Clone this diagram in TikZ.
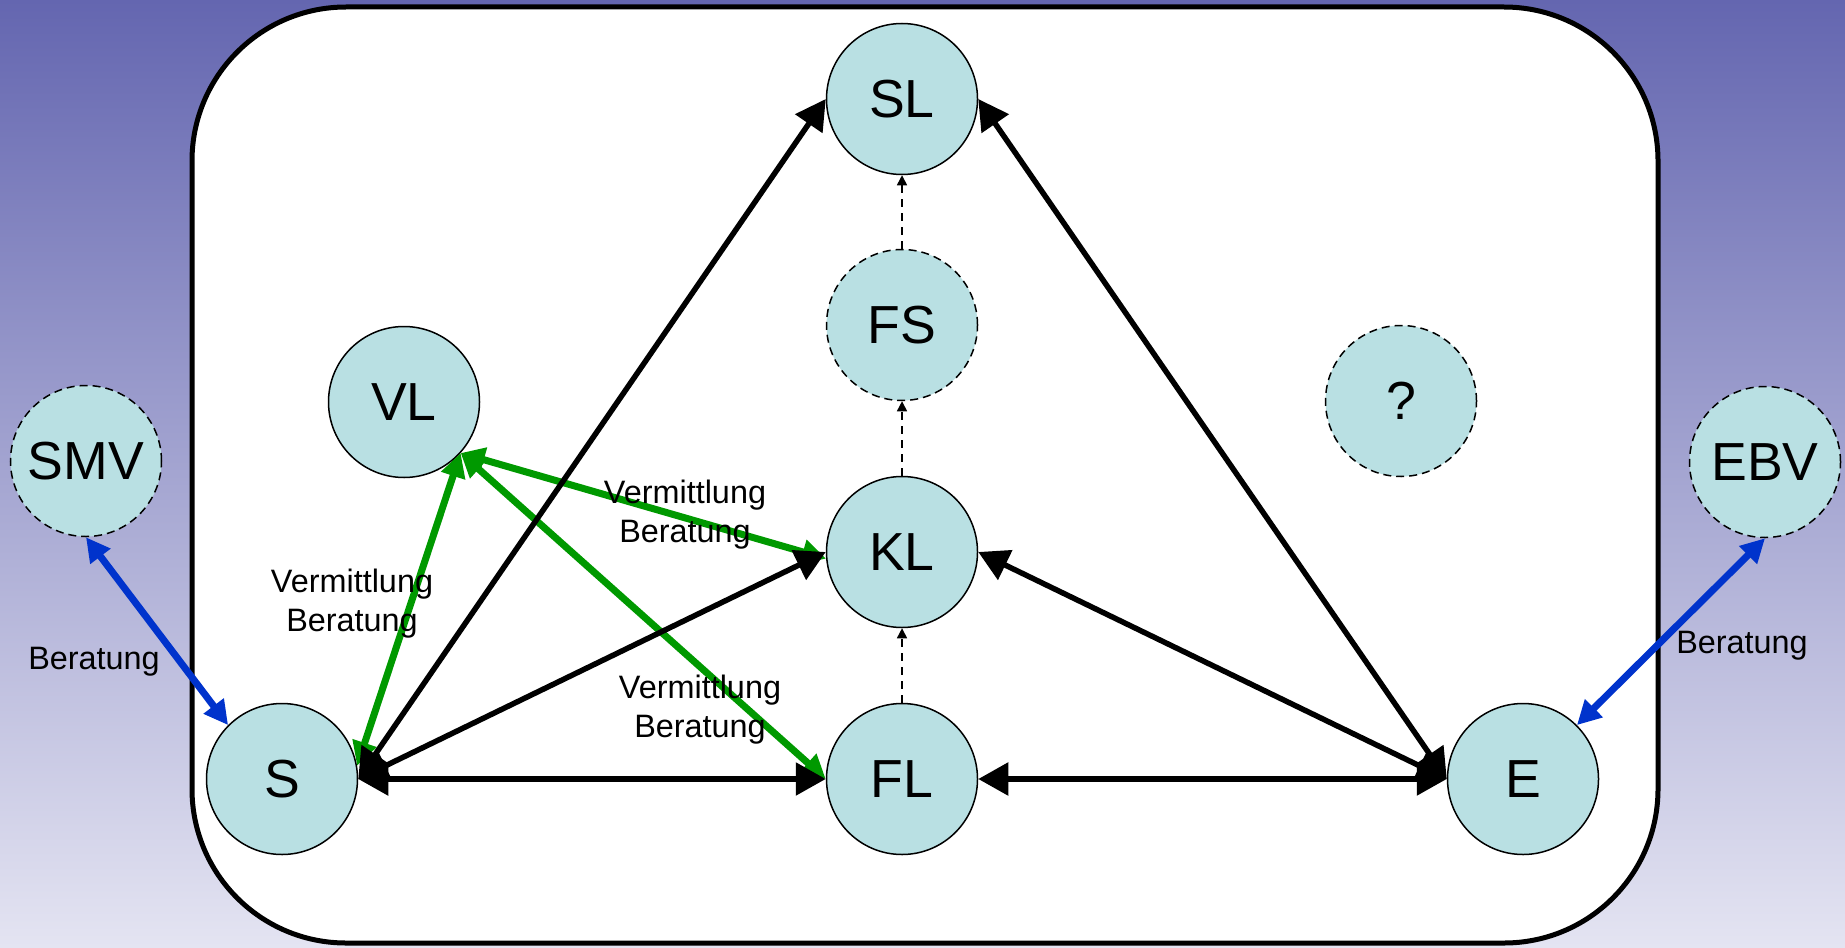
\documentclass[tikz,border=0pt]{standalone}
\usepackage{xcolor}
\usepackage{fontspec}
\setmainfont{Liberation Sans}
\usepackage{tikz}
\usetikzlibrary{arrows.meta}

\begin{document}
\begin{tikzpicture}[x=0.5pt, y=-0.5pt,
	member/.style={circle, draw=black, line width=0.75pt, fill=nodefill, minimum size=75.5pt, inner sep=0pt, font=\fontsize{26.8}{31}\selectfont},
	guest/.style={member, dash pattern=on 4pt off 2.5pt},
	link/.style={draw=black, line width=2.75pt, {Triangle[length=15pt,width=16pt]}-{Triangle[length=15pt,width=16pt]}},
	agency/.style={draw=agencygreen, line width=3.5pt, {Triangle[length=12pt,width=12pt]}-{Triangle[length=12pt,width=12pt]}},
	advice/.style={draw=adviceblue, line width=3.5pt, {Triangle[length=12pt,width=12pt]}-{Triangle[length=12pt,width=12pt]}},
	hint/.style={draw=black, line width=0.75pt, dash pattern=on 4pt off 3pt, -{Triangle[length=5pt,width=5pt]}},
	note/.style={font=\fontsize{16.2}{19.5}\selectfont, align=center, inner sep=0pt}
]

	%sizes (pixels of the page)
	\def\Wpage{1845}
	\def\Hpage{947}

	\definecolor{bgtop}{RGB}{100,102,176}
	\definecolor{bgbot}{RGB}{228,228,242}
	\definecolor{nodefill}{RGB}{185,224,227}
	\definecolor{agencygreen}{RGB}{0,153,0}
	\definecolor{adviceblue}{RGB}{0,51,204}

	% background
	\useasboundingbox (0,0) rectangle (\Wpage,\Hpage);
	\shade[top color=bgtop, bottom color=bgbot] (0,0) rectangle (\Wpage,\Hpage);

	% school frame
	\filldraw[fill=white, draw=black, line width=2.5pt, rounded corners=77pt]
		(192,7) rectangle (1658,943);

	% inner circle
	\node[member] (SL) at (902,99) {SL};
	\node[guest]  (FS) at (902,325) {FS};
	\node[member] (KL) at (902,552) {KL};
	\node[member] (FL) at (902,779) {FL};
	\node[member] (S)  at (282,779) {S};
	\node[member] (E)  at (1523,779) {E};
	\node[member] (VL) at (404,402) {VL};
	\node[guest]  (Q)  at (1401,401) {?};

	% outside partners
	\node[guest] (SMV) at (86,461) {SMV};
	\node[guest] (EBV) at (1765,462) {EBV};

	% dashed chain
	\draw[hint] (FL) -- (KL);
	\draw[hint] (KL) -- (FS);
	\draw[hint] (FS) -- (SL);

	% green links from VL
	\draw[agency] (VL.-42) -- (S.10);
	\draw[agency] (VL.-42) -- (KL.185);
	\draw[agency] (VL.-42) -- (FL.west);

	% black links
	\draw[link] (S.east) -- (SL.west);
	\draw[link] (S.east) -- (KL.west);
	\draw[link] (S.east) -- (FL.west);
	\draw[link] (E.west) -- (SL.east);
	\draw[link] (E.west) -- (KL.east);
	\draw[link] (E.west) -- (FL.east);

	% blue links
	\draw[advice] (SMV.south) -- (S.north west);
	\draw[advice] (EBV.south) -- (E.north east);

	% labels
	\node[note] (noteVS) at (352,604) {Vermittlung\\Beratung};
	\node[note] (noteVK) at (685,515) {Vermittlung\\Beratung};
	\node[note] (noteVF) at (700,710) {Vermittlung\\Beratung};
	\node[note] (noteSMV) at (94,662) {Beratung};
	\node[note] (noteEBV) at (1742,646) {Beratung};

\end{tikzpicture}
\end{document}
